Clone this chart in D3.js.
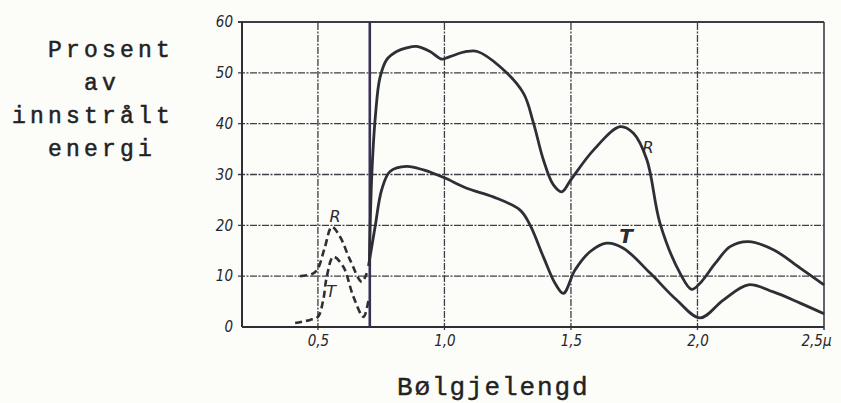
<!DOCTYPE html>
<html>
<head>
<meta charset="utf-8">
<script src="https://cdn.jsdelivr.net/npm/d3@7"></script>
<style>
  html, body { margin: 0; padding: 0; background: #fcfcf9; }
  svg { display: block; }
</style>
</head>
<body>
<svg id="chart" width="841" height="403"></svg>
<script>
// ---- data (wavelength in µ, percent of incident energy) ----
const xTicks = [0.5, 1.0, 1.5, 2.0, 2.5];
const xTickLabels = ["0,5", "1,0", "1,5", "2,0", "2,5µ"];
const yTicks = [0, 10, 20, 30, 40, 50, 60];
const yTickLabels = ["0", "10", "20", "30", "40", "50", "60"];

const reflSolid = [
  [0.703, 12], [0.713, 30], [0.728, 42], [0.745, 49], [0.772, 52.6],
  [0.811, 54.2], [0.85, 54.9], [0.89, 55.2], [0.943, 54.2], [0.99, 52.7],
  [1.022, 53.2], [1.088, 54.2], [1.13, 54.2], [1.22, 51.2], [1.312, 46.0],
  [1.352, 40.1], [1.391, 32.9], [1.43, 28.0], [1.464, 26.6], [1.50, 29.0],
  [1.589, 34.8], [1.694, 39.4], [1.747, 38.1], [1.80, 32.9], [1.852, 20.4],
  [1.931, 10.6], [1.977, 7.4], [2.01, 8.6], [2.07, 12.5], [2.129, 15.8],
  [2.201, 16.8], [2.30, 15.2], [2.406, 11.6], [2.50, 8.3]
];
const transSolid = [
  [0.700, 12], [0.726, 19.7], [0.752, 27], [0.785, 30.6], [0.851, 31.6],
  [0.917, 30.9], [1.002, 29.3], [1.088, 27.3], [1.193, 25.6], [1.299, 23.0],
  [1.338, 20.1], [1.391, 13.8], [1.437, 8.6], [1.47, 6.6], [1.516, 11.2],
  [1.575, 14.8], [1.641, 16.5], [1.707, 15.5], [1.813, 10.6], [1.918, 5.3],
  [2.01, 1.8], [2.102, 5.3], [2.201, 8.3], [2.30, 6.9], [2.406, 4.7], [2.50, 2.6]
];
const reflDashed = [
  [0.43, 10], [0.48, 10.5], [0.50, 11.5], [0.528, 15.8], [0.555, 19.7],
  [0.587, 17.8], [0.627, 13.2], [0.673, 8.9], [0.693, 10.6]
];
const transDashed = [
  [0.41, 0.8], [0.469, 1.4], [0.50, 2.0], [0.521, 5.3], [0.535, 9.9],
  [0.561, 13.8], [0.60, 11.9], [0.64, 6.0], [0.68, 2.0], [0.70, 5.3]
];
const dividerX = 0.705;
const curveLabels = [
  { text: "R", x: 0.568, y: 20.7 },
  { text: "T", x: 0.552, y: 5.9 },
  { text: "R", x: 1.805, y: 34.3 },
  { text: "T", x: 1.718, y: 16.5 }
];
const yTitleLines = ["Prosent", "av", "innstrålt", "energi"];
const xTitle = "Bølgjelengd";

// ---- layout ----
const svg = d3.select("#chart");
const x = d3.scaleLinear().domain([0.2, 2.5]).range([242, 824]);
const y = d3.scaleLinear().domain([0, 60]).range([327, 22]);
const ink = "#2e2e36";

// gridlines
const grid = svg.append("g");
grid.selectAll("line.h").data(yTicks.filter(d => d > 0)).join("line")
  .attr("x1", x(0.2) - 4).attr("x2", x(2.5))
  .attr("y1", d => y(d)).attr("y2", d => y(d))
  .attr("stroke", "#3c3c44").attr("stroke-width", d => d === 60 ? 2 : 1.3)
  .attr("stroke-dasharray", d => d === 60 ? null : "7,1.5,2,1.5");
grid.selectAll("line.v").data(xTicks).join("line")
  .attr("x1", d => x(d)).attr("x2", d => x(d))
  .attr("y1", y(0) + 3).attr("y2", y(60))
  .attr("stroke", "#3c3c44").attr("stroke-width", d => d === 2.5 ? 1.6 : 1.3)
  .attr("stroke-dasharray", d => d === 2.5 ? null : "7,1.5,2,1.5");

// axes lines
svg.append("line").attr("x1", x(0.2)).attr("x2", x(0.2)).attr("y1", y(0)).attr("y2", y(60))
  .attr("stroke", ink).attr("stroke-width", 2);
svg.append("line").attr("x1", x(0.2)).attr("x2", x(2.5)).attr("y1", y(0)).attr("y2", y(0))
  .attr("stroke", ink).attr("stroke-width", 2);

// divider
svg.append("line").attr("x1", x(dividerX)).attr("x2", x(dividerX)).attr("y1", y(0)).attr("y2", y(60))
  .attr("stroke", "#3a2f55").attr("stroke-width", 2.6);

// tick labels via axes
const tickFont = g => g.selectAll("text")
  .attr("font-family", "'DejaVu Sans', sans-serif")
  .attr("font-style", "italic")
  .style("font-stretch", "condensed")
  .attr("font-size", 15)
  .attr("fill", "#26262c");

const yAxis = d3.axisLeft(y).tickValues(yTicks)
  .tickFormat((d, i) => yTickLabels[i]).tickSize(0).tickPadding(9);
svg.append("g").attr("transform", `translate(${x(0.2)},0)`).call(yAxis)
  .call(g => g.select(".domain").remove()).call(tickFont);

const xAxis = d3.axisBottom(x).tickValues(xTicks)
  .tickFormat((d, i) => xTickLabels[i]).tickSize(0).tickPadding(8);
svg.append("g").attr("transform", `translate(0,${y(0)})`).call(xAxis)
  .call(g => g.select(".domain").remove()).call(tickFont)
  .call(g => g.selectAll("text").filter((d, i) => i === xTicks.length - 1)
    .attr("text-anchor", "end").attr("dx", 7));

// curves
const line = d3.line().x(d => x(d[0])).y(d => y(d[1])).curve(d3.curveCatmullRom.alpha(0.5));
svg.append("path").datum(reflSolid).attr("d", line)
  .attr("fill", "none").attr("stroke", ink).attr("stroke-width", 2.8).attr("stroke-linejoin", "round");
svg.append("path").datum(transSolid).attr("d", line)
  .attr("fill", "none").attr("stroke", ink).attr("stroke-width", 2.8).attr("stroke-linejoin", "round");
svg.append("path").datum(reflDashed).attr("d", line)
  .attr("fill", "none").attr("stroke", ink).attr("stroke-width", 2.6).attr("stroke-dasharray", "7,4");
svg.append("path").datum(transDashed).attr("d", line)
  .attr("fill", "none").attr("stroke", ink).attr("stroke-width", 2.6).attr("stroke-dasharray", "7,4");

// curve labels
svg.selectAll("text.cl").data(curveLabels).join("text")
  .attr("class", "cl")
  .attr("x", d => x(d.x)).attr("y", d => y(d.y))
  .attr("text-anchor", "middle")
  .attr("font-family", "'DejaVu Sans', sans-serif")
  .attr("font-style", "italic")
  .attr("font-size", (d, i) => i === 3 ? 20 : 16)
  .attr("font-weight", (d, i) => i === 3 ? "bold" : "normal")
  .attr("fill", "#2a2a30")
  .text(d => d.text);

// y title (typewriter, aligned to a character grid)
const yTitleCols = [2, 4, 0, 2];
svg.append("g").selectAll("text").data(yTitleLines).join("text")
  .attr("x", (d, i) => 12 + yTitleCols[i] * 18)
  .attr("y", (d, i) => 57 + i * 33)
  .attr("font-family", "'Liberation Mono', monospace")
  .attr("font-size", 23)
  .attr("letter-spacing", 4.2)
  .attr("fill", "#222")
  .attr("stroke", "#222").attr("stroke-width", 0.5)
  .text(d => d);

// x title
svg.append("text")
  .attr("x", 397).attr("y", 395)
  .attr("font-family", "'Liberation Mono', monospace")
  .attr("font-size", 26)
  .attr("letter-spacing", 1.9)
  .attr("fill", "#222")
  .attr("stroke", "#222").attr("stroke-width", 0.4)
  .text(xTitle);
</script>
</body>
</html>
